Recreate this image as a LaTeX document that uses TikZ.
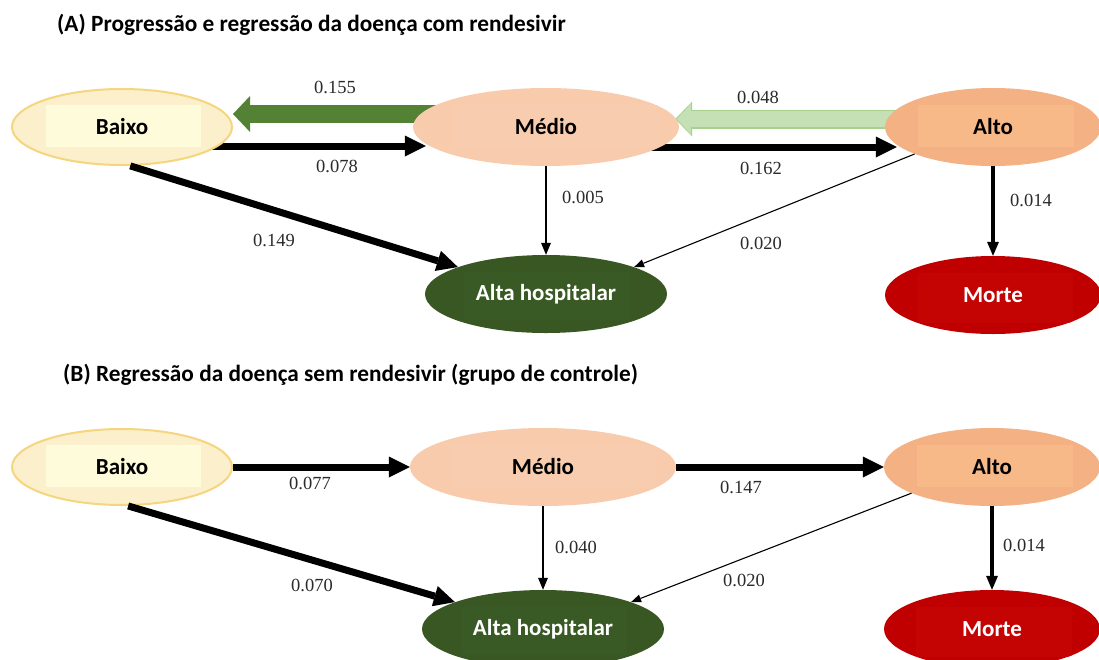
\documentclass[tikz,border=0pt]{standalone}
\usepackage{fontspec}
\setmainfont{Liberation Serif}
\newfontfamily\calibf{Carlito}
\usetikzlibrary{shapes.geometric,arrows.meta,calc,backgrounds}

\definecolor{baixoF}{HTML}{FCEFCB}
\definecolor{baixoD}{HTML}{F5D67E}
\definecolor{baixoI}{HTML}{FEFBDA}
\definecolor{medioF}{HTML}{F8CBAD}
\definecolor{medioI}{HTML}{F8CDAF}
\definecolor{altoF}{HTML}{F4B183}
\definecolor{altoI}{HTML}{F7B988}
\definecolor{altaF}{HTML}{385723}
\definecolor{altaI}{HTML}{3A5A25}
\definecolor{morteF}{HTML}{C00000}
\definecolor{morteI}{HTML}{C40303}
\definecolor{dgreen}{HTML}{548235}
\definecolor{lgreen}{HTML}{C5E0B4}
\definecolor{lgreenD}{HTML}{A9D18E}
\definecolor{numc}{HTML}{2B2B2B}

\tikzset{
  state/.style={ellipse, inner sep=0pt, text=black,
    font=\calibf\bfseries\fontsize{23}{27}\selectfont},
  inrect/.style n args={5}{path picture={\fill[#1]
      ([xshift=#2pt,yshift=#3pt]path picture bounding box.center) rectangle
      ([xshift=#4pt,yshift=#5pt]path picture bounding box.center);}},
  baixost/.style={state, fill=baixoF, draw=baixoD, line width=2pt,
    minimum width=220pt, minimum height=76pt, inrect={baixoI}{-76}{-20}{79}{22}},
  mediost/.style={state, fill=medioF, minimum width=266pt, minimum height=78pt,
    inrect={medioI}{-92}{-20}{112}{22}},
  altost/.style={state, fill=altoF, minimum width=216pt, minimum height=78pt,
    inrect={altoI}{-75}{-20}{81}{22}},
  altast/.style={state, fill=altaF, text=white, minimum width=242pt, minimum height=78pt,
    inrect={altaI}{-82}{-26}{84}{22}},
  mortest/.style={state, fill=morteF, text=white, minimum width=216pt, minimum height=78pt,
    inrect={morteI}{-76}{-28}{80}{22}},
  ttl/.style={anchor=west, inner sep=0pt, font=\calibf\bfseries\fontsize{23.3}{27}\selectfont},
  num/.style={inner sep=1pt, text=numc, font=\fontsize{18.5}{22}\selectfont},
  bigarr/.style={-{Triangle[length=21pt,width=21pt,line width=0pt]}, line width=7pt},
  medarr/.style={-{Triangle[length=14pt,width=12pt,line width=0pt]}, line width=4pt},
  smallarr/.style={-{Triangle[length=12pt,width=10pt,line width=0pt]}, line width=2.5pt},
  thinarr/.style={-{Triangle[length=10pt,width=8pt,line width=0pt]}, line width=1.1pt},
}

\begin{document}
\begin{tikzpicture}[x=1pt,y=-1pt]
\useasboundingbox (0,0) rectangle (1099,659);
\begin{scope}[on background layer]
\fill[white] (0,0) rectangle (1099,659);
\end{scope}

% ---------- Panel A ----------
\node[ttl] (titleA) at (57,25) {(A) Progressão e regressão da doença com rendesivir};

\node[baixost] (baixoA) at (122,127) {Baixo};
\node[mediost] (medioA) at (546,127) {Médio};
\node[altost]  (altoA)  at (993,127) {Alto};
\node[altast]  (altaA)  at (546,294) {Alta hospitalar};
\node[mortest] (morteA) at (993,295) {Morte};

\begin{scope}[on background layer]
% block arrows
\draw[dgreen, line width=18pt, -{Triangle[length=17pt,width=36pt,line width=0pt]}]
  ([yshift=13pt]medioA.center) -- ([yshift=13pt]baixoA.east);
\draw[lgreenD, line width=19pt, -{Triangle[length=17pt,width=35pt,line width=0pt]}]
  ([yshift=8pt]altoA.center) -- ([xshift=-4pt,yshift=8pt]medioA.east);
\draw[lgreen, line width=16pt, shorten >=1.6pt, -{Triangle[length=14pt,width=30pt,line width=0pt]}]
  ([yshift=8pt]altoA.center) -- ([xshift=-4pt,yshift=8pt]medioA.east);

\draw[bigarr] ([yshift=-19pt]baixoA.center) -- ([xshift=13pt,yshift=-19pt]medioA.west);
\draw[bigarr] ([yshift=-20pt]medioA.center) -- ([xshift=12pt,yshift=-20pt]altoA.west);
\end{scope}
\draw[bigarr] (baixoA.-78) -- (altaA.163.5);
\draw[smallarr] (medioA.south) -- (altaA.north);
\draw[thinarr] (altoA.199) -- (altaA.17);
\draw[medarr] (altoA.south) -- (morteA.north);

\node[num] (nA155) at (335,87) {0.155};
\node[num] (nA048) at (758,97) {0.048};
\node[num] (nA078) at (337,166) {0.078};
\node[num] (nA162) at (761,168) {0.162};
\node[num] (nA005) at (583,197) {0.005};
\node[num] (nA149) at (274,240) {0.149};
\node[num] (nA020) at (761,243) {0.020};
\node[num] (nA014) at (1031,200) {0.014};

% ---------- Panel B ----------
\node[ttl] (titleB) at (63,375) {(B) Regressão da doença sem rendesivir (grupo de controle)};

\node[baixost] (baixoB) at (122,467) {Baixo};
\node[mediost] (medioB) at (543,467) {Médio};
\node[altost]  (altoB)  at (992,467) {Alto};
\node[altast]  (altaB)  at (543,629) {Alta hospitalar};
\node[mortest] (morteB) at (992,629) {Morte};

\draw[bigarr] (baixoB.east) -- (medioB.west);
\draw[bigarr] (medioB.east) -- (altoB.west);
\draw[bigarr] (baixoB.-81) -- (altaB.163.5);
\draw[smallarr] (medioB.south) -- (altaB.north);
\draw[thinarr] (altoB.198) -- (altaB.17);
\draw[medarr] (altoB.south) -- (morteB.north);

\node[num] (nB077) at (310,483) {0.077};
\node[num] (nB147) at (741,487) {0.147};
\node[num] (nB040) at (576,547) {0.040};
\node[num] (nB070) at (312,585) {0.070};
\node[num] (nB020) at (744,580) {0.020};
\node[num] (nB014) at (1024,545) {0.014};
\end{tikzpicture}
\end{document}
